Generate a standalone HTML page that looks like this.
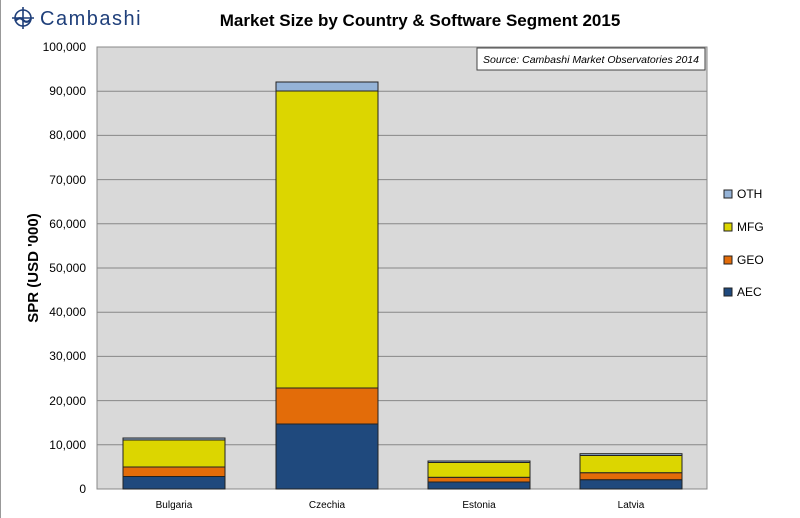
<!DOCTYPE html>
<html><head><meta charset="utf-8"><style>
body{margin:0;background:#fff}
svg{display:block;font-family:"Liberation Sans",sans-serif}
</style></head><body>
<svg width="800" height="518" viewBox="0 0 800 518">
<line x1="0.5" y1="0" x2="0.5" y2="518" stroke="#999"/>
<g transform="translate(23,18)" stroke="#1f3f7a" fill="none" stroke-width="1.6">
<circle cx="0" cy="0" r="8"/>
<line x1="-11" y1="0" x2="11" y2="0"/><line x1="0" y1="-11" x2="0" y2="11"/>
<path d="M-8 3 Q-3 -2 0 2 Q4 6 8 1" stroke-width="2.2"/>
</g>
<text x="40" y="25" font-size="20" fill="#1f3f7a" letter-spacing="1.5">Cambashi</text>
<text x="420" y="26" font-size="17" font-weight="bold" text-anchor="middle" fill="#000">Market Size by Country &amp; Software Segment 2015</text>
<rect x="97" y="47" width="610" height="442" fill="#d9d9d9" stroke="#888"/>
<g stroke="#888" stroke-width="1">
<line x1="97" y1="91.2" x2="707" y2="91.2"/><line x1="97" y1="135.4" x2="707" y2="135.4"/>
<line x1="97" y1="179.6" x2="707" y2="179.6"/><line x1="97" y1="223.8" x2="707" y2="223.8"/>
<line x1="97" y1="268" x2="707" y2="268"/><line x1="97" y1="312.2" x2="707" y2="312.2"/>
<line x1="97" y1="356.4" x2="707" y2="356.4"/><line x1="97" y1="400.6" x2="707" y2="400.6"/>
<line x1="97" y1="444.8" x2="707" y2="444.8"/>
</g>
<g font-size="12" fill="#000" text-anchor="end">
<text x="86" y="51">100,000</text><text x="86" y="95">90,000</text><text x="86" y="139">80,000</text>
<text x="86" y="184">70,000</text><text x="86" y="228">60,000</text><text x="86" y="272">50,000</text>
<text x="86" y="316">40,000</text><text x="86" y="360">30,000</text><text x="86" y="405">20,000</text>
<text x="86" y="449">10,000</text><text x="86" y="493">0</text>
</g>
<text transform="translate(38,268) rotate(-90)" font-size="15" font-weight="bold" text-anchor="middle">SPR (USD '000)</text>
<rect x="477" y="48" width="228" height="22" fill="#fff" stroke="#444"/>
<text x="591" y="63" font-size="10.5" font-style="italic" text-anchor="middle">Source: Cambashi Market Observatories 2014</text>
<g stroke="#222" stroke-width="1">
<rect x="123" y="476.5" width="102" height="12.5" fill="#1f497d"/>
<rect x="123" y="467" width="102" height="9.5" fill="#e36c09"/>
<rect x="123" y="440" width="102" height="27" fill="#dcd600"/>
<rect x="123" y="438" width="102" height="2" fill="#95b3d7"/>
<rect x="276" y="424" width="102" height="65" fill="#1f497d"/>
<rect x="276" y="388" width="102" height="36" fill="#e36c09"/>
<rect x="276" y="91" width="102" height="297" fill="#dcd600"/>
<rect x="276" y="82" width="102" height="9" fill="#95b3d7"/>
<rect x="428" y="482" width="102" height="7" fill="#1f497d"/>
<rect x="428" y="477.3" width="102" height="4.7" fill="#e36c09"/>
<rect x="428" y="462.5" width="102" height="14.8" fill="#dcd600"/>
<rect x="428" y="461" width="102" height="1.5" fill="#95b3d7"/>
<rect x="580" y="479.7" width="102" height="9.3" fill="#1f497d"/>
<rect x="580" y="472.7" width="102" height="7" fill="#e36c09"/>
<rect x="580" y="455.5" width="102" height="17.2" fill="#dcd600"/>
<rect x="580" y="453.7" width="102" height="1.8" fill="#95b3d7"/>
</g>
<g font-size="10" text-anchor="middle">
<text x="174" y="508">Bulgaria</text><text x="327" y="508">Czechia</text>
<text x="479" y="508">Estonia</text><text x="631" y="508">Latvia</text>
</g>
<g font-size="12" stroke="#222">
<rect x="724" y="190" width="8" height="8" fill="#95b3d7"/>
<rect x="724" y="223" width="8" height="8" fill="#dcd600"/>
<rect x="724" y="256" width="8" height="8" fill="#e36c09"/>
<rect x="724" y="288" width="8" height="8" fill="#1f497d"/>
</g>
<g font-size="12">
<text x="737" y="198">OTH</text><text x="737" y="231">MFG</text>
<text x="737" y="264">GEO</text><text x="737" y="296">AEC</text>
</g>
</svg>
</body></html>
